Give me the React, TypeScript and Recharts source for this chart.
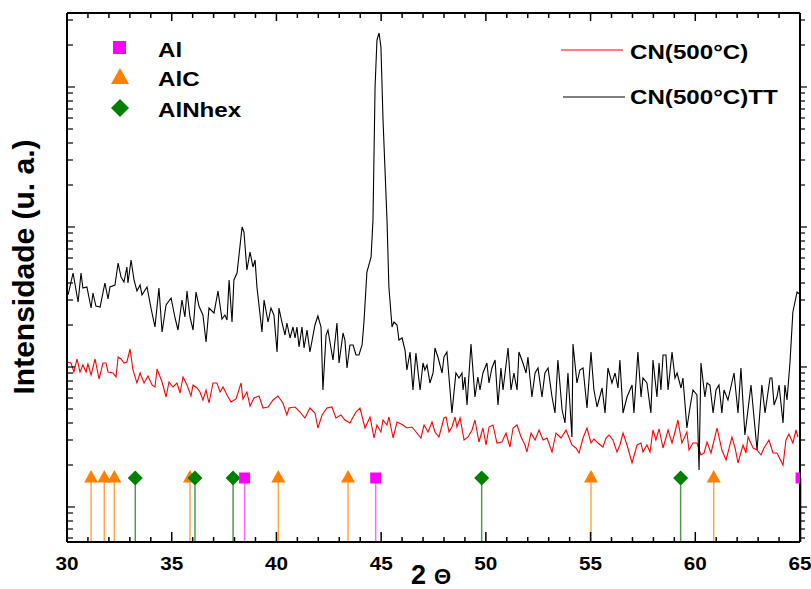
import {
  ComposedChart,
  Line,
  Scatter,
  ErrorBar,
  XAxis,
  YAxis,
} from 'recharts';

// ─── Data ────────────────────────────────────────────────────────────────────

// [2θ, intensity] – CN(500°C)TT, black trace
const cnTT: [number, number][] = [
  [30.05, 494], [30.29, 538], [30.53, 480], [30.67, 538], [30.76, 508], [30.95, 510], [31.15, 468], [31.24, 498], [31.38, 472], [31.58, 470],
  [31.81, 518], [31.96, 486], [32.05, 510], [32.29, 514], [32.44, 558], [32.58, 530], [32.72, 520], [32.86, 550], [32.91, 518], [33.06, 564],
  [33.2, 524], [33.34, 502], [33.49, 514], [33.58, 494], [33.82, 510], [34.01, 468], [34.2, 430], [34.39, 508], [34.54, 420], [34.73, 474],
  [34.97, 488], [35.16, 448], [35.3, 424], [35.49, 484], [35.63, 450], [35.73, 502], [35.87, 450], [36.02, 424], [36.16, 500], [36.3, 472],
  [36.49, 454], [36.64, 400], [36.78, 468], [37.02, 458], [37.21, 502], [37.4, 446], [37.54, 454], [37.64, 444], [37.74, 524], [37.88, 440],
  [37.97, 524], [38.12, 538], [38.36, 630], [38.45, 620], [38.59, 544], [38.74, 580], [38.88, 550], [38.98, 564], [39.07, 510], [39.31, 420],
  [39.41, 484], [39.6, 440], [39.74, 468], [39.88, 454], [40.03, 380], [40.12, 468], [40.27, 438], [40.41, 414], [40.5, 438], [40.65, 408],
  [40.79, 430], [40.89, 408], [40.98, 430], [41.08, 390], [41.22, 430], [41.32, 388], [41.46, 424], [41.6, 380], [41.84, 434], [41.98, 452],
  [42.13, 430], [42.22, 304], [42.37, 414], [42.46, 424], [42.7, 364], [42.89, 438], [42.99, 358], [43.18, 418], [43.27, 404], [43.37, 348],
  [43.51, 394], [43.66, 394], [43.8, 374], [43.94, 374], [44.09, 394], [44.18, 440], [44.32, 540], [44.52, 570], [44.61, 644], [44.71, 910],
  [44.8, 1004], [44.9, 1018], [44.99, 990], [45.09, 844], [45.28, 644], [45.37, 510], [45.52, 430], [45.61, 440], [45.76, 434], [45.85, 404],
  [46.0, 408], [46.14, 384], [46.23, 344], [46.38, 380], [46.52, 304], [46.66, 378], [46.86, 304], [47.0, 358], [47.09, 344], [47.19, 354],
  [47.33, 318], [47.48, 338], [47.57, 388], [47.71, 370], [47.91, 338], [48.0, 370], [48.14, 380], [48.38, 258], [48.57, 338], [48.72, 328],
  [48.86, 338], [48.91, 304], [49.0, 330], [49.1, 274], [49.29, 396], [49.48, 290], [49.62, 330], [49.72, 304], [49.86, 338], [50.05, 358],
  [50.15, 318], [50.29, 348], [50.44, 364], [50.58, 274], [50.72, 348], [50.82, 304], [51.06, 388], [51.2, 304], [51.34, 338], [51.49, 304],
  [51.58, 380], [51.77, 358], [51.92, 338], [52.01, 370], [52.2, 290], [52.35, 338], [52.49, 348], [52.68, 290], [52.82, 338], [52.97, 348],
  [53.16, 290], [53.3, 258], [53.44, 364], [53.64, 264], [53.78, 238], [53.92, 338], [54.11, 210], [54.16, 396], [54.35, 318], [54.49, 344],
  [54.64, 348], [54.83, 268], [55.02, 380], [55.16, 304], [55.31, 270], [55.55, 308], [55.69, 258], [55.83, 348], [56.02, 318], [56.17, 338],
  [56.31, 308], [56.4, 364], [56.55, 258], [56.74, 290], [56.98, 314], [57.07, 258], [57.26, 380], [57.41, 290], [57.5, 328], [57.69, 318],
  [57.88, 258], [57.98, 364], [58.17, 290], [58.27, 358], [58.36, 304], [58.46, 374], [58.6, 374], [58.7, 304], [58.89, 380], [59.03, 328],
  [59.13, 338], [59.32, 308], [59.41, 328], [59.6, 228], [59.75, 270], [59.89, 304], [60.08, 294], [60.18, 144], [60.27, 358], [60.46, 290],
  [60.56, 318], [60.7, 314], [60.85, 258], [60.99, 304], [61.13, 314], [61.27, 258], [61.37, 304], [61.56, 284], [61.85, 338], [62.04, 258],
  [62.18, 348], [62.37, 214], [62.66, 314], [62.95, 184], [63.18, 314], [63.33, 258], [63.57, 328], [63.66, 328], [63.76, 274], [63.9, 290],
  [64.0, 314], [64.19, 238], [64.28, 314], [64.38, 284], [64.52, 358], [64.66, 460], [64.86, 500], [64.97, 496],
];

// [2θ, intensity] – CN(500°C), red trace
const cn500: [number, number][] = [
  [30.0, 360], [30.19, 358], [30.33, 340], [30.48, 366], [30.62, 340], [30.76, 354], [30.91, 340], [31.0, 356], [31.15, 334], [31.34, 366],
  [31.53, 326], [31.72, 358], [31.86, 358], [31.96, 340], [32.2, 338], [32.34, 330], [32.44, 370], [32.58, 366], [32.72, 358], [32.86, 360],
  [33.01, 386], [33.15, 344], [33.34, 318], [33.49, 338], [33.68, 318], [33.87, 332], [34.06, 314], [34.2, 310], [34.3, 346], [34.54, 320],
  [34.73, 290], [34.87, 320], [35.06, 310], [35.25, 318], [35.4, 298], [35.54, 330], [35.73, 314], [35.92, 292], [36.02, 314], [36.21, 308],
  [36.35, 300], [36.49, 284], [36.64, 304], [36.78, 278], [36.97, 318], [37.16, 318], [37.31, 300], [37.45, 310], [37.64, 294], [37.83, 280],
  [38.07, 286], [38.31, 318], [38.4, 286], [38.59, 300], [38.74, 272], [38.93, 288], [39.17, 292], [39.36, 268], [39.6, 270], [39.84, 284],
  [40.07, 292], [40.31, 278], [40.5, 254], [40.6, 268], [40.89, 270], [41.13, 260], [41.36, 248], [41.6, 268], [41.84, 258], [41.98, 228],
  [42.18, 254], [42.41, 268], [42.65, 270], [42.84, 248], [43.08, 254], [43.27, 244], [43.51, 238], [43.66, 250], [43.8, 260], [43.99, 268],
  [44.23, 228], [44.47, 250], [44.66, 208], [44.8, 234], [44.99, 220], [45.09, 244], [45.28, 234], [45.37, 250], [45.57, 208], [45.76, 240],
  [46.04, 234], [46.23, 228], [46.47, 230], [46.71, 218], [46.9, 208], [47.05, 234], [47.24, 220], [47.43, 240], [47.57, 220], [47.76, 210],
  [48.0, 248], [48.1, 250], [48.24, 220], [48.38, 230], [48.53, 250], [48.62, 230], [48.77, 248], [48.96, 204], [49.15, 210], [49.34, 224],
  [49.48, 244], [49.67, 200], [49.86, 228], [50.01, 194], [50.15, 230], [50.34, 234], [50.53, 198], [50.77, 200], [50.96, 218], [51.15, 190],
  [51.3, 228], [51.49, 234], [51.68, 210], [51.87, 194], [51.96, 180], [52.16, 218], [52.35, 204], [52.54, 224], [52.73, 204], [52.92, 208],
  [53.16, 180], [53.35, 218], [53.59, 208], [53.83, 224], [54.11, 194], [54.3, 188], [54.45, 178], [54.64, 208], [54.83, 228], [55.02, 198],
  [55.16, 206], [55.35, 198], [55.59, 190], [55.74, 208], [55.88, 214], [56.07, 204], [56.26, 180], [56.4, 194], [56.55, 218], [56.74, 194],
  [56.98, 158], [57.22, 194], [57.41, 198], [57.5, 180], [57.69, 194], [57.84, 180], [57.98, 224], [58.12, 204], [58.27, 226], [58.46, 188],
  [58.7, 224], [58.89, 198], [59.03, 220], [59.17, 244], [59.36, 198], [59.6, 220], [59.7, 184], [59.89, 198], [60.08, 198], [60.27, 174],
  [60.42, 178], [60.56, 200], [60.75, 178], [61.04, 228], [61.27, 184], [61.47, 164], [61.75, 210], [61.9, 188], [62.04, 158], [62.28, 194],
  [62.42, 178], [62.52, 210], [62.76, 188], [62.95, 184], [63.14, 174], [63.28, 188], [63.52, 204], [63.71, 178], [63.9, 178], [64.19, 154],
  [64.33, 204], [64.47, 216], [64.66, 198], [64.81, 224], [64.9, 210],
];

// reference peak positions (2θ) for each phase
const alPeaks = [38.48, 44.74, 65.05];
const alcPeaks = [31.15, 31.78, 32.26, 35.87, 40.09, 43.42, 55.02, 60.88];
const alnPeaks = [33.26, 36.11, 37.93, 49.8, 59.3];
const MARKER_LEVEL = 128;

// axis ticks
const xMajorTicks = [30, 35, 40, 45, 50, 55, 60, 65];
const xMinorTicks = [31, 32, 33, 34, 36, 37, 38, 39, 41, 42, 43, 44, 46, 47, 48, 49, 51, 52, 53, 54, 56, 57, 58, 59, 61, 62, 63, 64];
const yDecadeTicks = [70, 350, 630, 910];
const yMinorTicks = [8, 26, 42, 58, 154, 204, 238, 266, 288, 306, 322, 338, 434, 484, 518, 546, 568, 586, 602, 618, 714, 764, 798, 826, 848, 866, 882, 898, 994, 1044];

// ─── Helpers ─────────────────────────────────────────────────────────────────

const FONT = '"Liberation Sans", Arial, Helvetica, sans-serif';
const W = 811;
const H = 589;
const PLOT_TOP = 13;
const PLOT_RIGHT = 800;

const toRows = (pts: [number, number][]) => pts.map(([theta, intensity]) => ({ theta, intensity }));
const toMarkers = (peaks: number[]) =>
  peaks.map((theta) => ({ theta, intensity: MARKER_LEVEL, stem: [MARKER_LEVEL, 0] }));

const xTicks = [...xMajorTicks, ...xMinorTicks].sort((a, b) => a - b);
const yTicks = [...yDecadeTicks, ...yMinorTicks].sort((a, b) => a - b);

// ─── Ticks (the mirrored top / right ticks are drawn alongside) ──────────────

function BottomTick({ x, y, payload }: any) {
  const major = xMajorTicks.includes(payload.value);
  return (
    <g>
      <line x1={x} y1={y} x2={x} y2={y - (major ? 10 : 5)} stroke="#000" strokeWidth={1.5} />
      <line x1={x} y1={PLOT_TOP} x2={x} y2={PLOT_TOP + (major ? 8 : 5)} stroke="#000" strokeWidth={1.5} />
      {major && (
        <text
          transform={`translate(${x},${y + 28}) scale(1.15,1)`}
          textAnchor="middle"
          fontSize={18}
          fontWeight="bold"
          fontFamily={FONT}
          fill="#000"
        >
          {payload.value}
        </text>
      )}
    </g>
  );
}

function LeftTick({ x, y, payload }: any) {
  const major = yDecadeTicks.includes(payload.value);
  return (
    <g>
      <line x1={x} y1={y} x2={x + (major ? 8 : 6)} y2={y} stroke="#000" strokeWidth={1.2} />
      <line x1={PLOT_RIGHT} y1={y} x2={PLOT_RIGHT + (major ? 7 : 5)} y2={y} stroke="#000" strokeWidth={1.2} />
    </g>
  );
}

// ─── Marker shapes ───────────────────────────────────────────────────────────

const SquareMark = ({ cx, cy }: any) => <rect x={cx - 5.5} y={cy - 5.5} width={11} height={11} fill="#ff00ff" />;
const TriangleMark = ({ cx, cy }: any) => (
  <polygon points={`${cx},${cy - 8} ${cx - 7},${cy + 4.5} ${cx + 7},${cy + 4.5}`} fill="#ff8000" />
);
const DiamondMark = ({ cx, cy }: any) => (
  <polygon points={`${cx},${cy - 7.5} ${cx + 7.5},${cy} ${cx},${cy + 7.5} ${cx - 7.5},${cy}`} fill="#008000" />
);

// ─── Legend and axis titles (drawn over the plot) ────────────────────────────

function LegendText({ x, y, children }: { x: number; y: number; children: string }) {
  return (
    <text transform={`translate(${x},${y}) scale(1.15,1)`} fontSize={21} fontWeight="bold" fontFamily={FONT} fill="#000">
      {children}
    </text>
  );
}

function ChartLegend() {
  return (
    <svg width={W} height={H} style={{ position: 'absolute', left: 0, top: 0, pointerEvents: 'none' }}>
      <rect x={113} y={41} width={13} height={13} fill="#ff00ff" />
      <LegendText x={158} y={57}>Al</LegendText>
      <polygon points="120,68 111,84 129,84" fill="#ff8000" />
      <LegendText x={158} y={86}>AlC</LegendText>
      <polygon points="120,99 129,108 120,117 111,108" fill="#008000" />
      <LegendText x={158} y={117}>AlNhex</LegendText>

      <line x1={561} y1={50} x2={623} y2={50} stroke="#ff0000" strokeWidth={1} />
      <LegendText x={630} y={59}>CN(500°C)</LegendText>
      <line x1={563} y1={97} x2={625} y2={97} stroke="#000" strokeWidth={1} />
      <LegendText x={630} y={104}>CN(500°C)TT</LegendText>

      <text transform="translate(34,267) rotate(-90)" textAnchor="middle" fontSize={30} fontWeight="bold" fontFamily={FONT} fill="#000">
        Intensidade (u. a.)
      </text>
      <text x={411} y={584} fontWeight="bold" fontFamily={FONT} fill="#000">
        <tspan fontSize={27}>2</tspan>
        <tspan fontSize={22} dx={8}>Θ</tspan>
      </text>
    </svg>
  );
}

// ─── Chart ───────────────────────────────────────────────────────────────────

export default function App() {
  const axisLine = { stroke: '#000', strokeWidth: 2 };
  return (
    <div style={{ position: 'absolute', left: 0, top: 0, width: W, height: H, background: '#fff' }}>
      <ComposedChart width={W} height={H} margin={{ top: 12, right: 10, bottom: 0, left: 66 }}>
        <XAxis
          dataKey="theta"
          type="number"
          domain={[30, 65]}
          ticks={xTicks}
          interval={0}
          allowDataOverflow
          height={47}
          tickSize={0}
          tickMargin={0}
          axisLine={axisLine}
          tickLine={false}
          tick={<BottomTick />}
        />
        <XAxis
          xAxisId="top"
          orientation="top"
          type="number"
          domain={[30, 65]}
          height={1}
          axisLine={axisLine}
          tickLine={false}
          tick={false}
        />
        <YAxis
          dataKey="intensity"
          type="number"
          domain={[0, 1058]}
          ticks={yTicks}
          interval={0}
          allowDataOverflow
          width={1}
          tickSize={0}
          tickMargin={0}
          axisLine={axisLine}
          tickLine={false}
          tick={<LeftTick />}
        />
        <YAxis
          yAxisId="right"
          orientation="right"
          type="number"
          domain={[0, 1058]}
          width={1}
          axisLine={axisLine}
          tickLine={false}
          tick={false}
        />

        <Line
          data={toRows(cn500)}
          dataKey="intensity"
          stroke="#ff0000"
          strokeWidth={1.1}
          dot={false}
          isAnimationActive={false}
        />
        <Line
          data={toRows(cnTT)}
          dataKey="intensity"
          stroke="#000000"
          strokeWidth={1.1}
          dot={false}
          isAnimationActive={false}
        />

        <Scatter data={toMarkers(alcPeaks)} dataKey="intensity" shape={TriangleMark} isAnimationActive={false}>
          <ErrorBar dataKey="stem" direction="y" width={0} stroke="#ffa64d" strokeWidth={1.5} />
        </Scatter>
        <Scatter data={toMarkers(alnPeaks)} dataKey="intensity" shape={DiamondMark} isAnimationActive={false}>
          <ErrorBar dataKey="stem" direction="y" width={0} stroke="#4f9a4f" strokeWidth={1.5} />
        </Scatter>
        <Scatter data={toMarkers(alPeaks)} dataKey="intensity" shape={SquareMark} isAnimationActive={false}>
          <ErrorBar dataKey="stem" direction="y" width={0} stroke="#ff66ff" strokeWidth={1.5} />
        </Scatter>
      </ComposedChart>

      <ChartLegend />
    </div>
  );
}
